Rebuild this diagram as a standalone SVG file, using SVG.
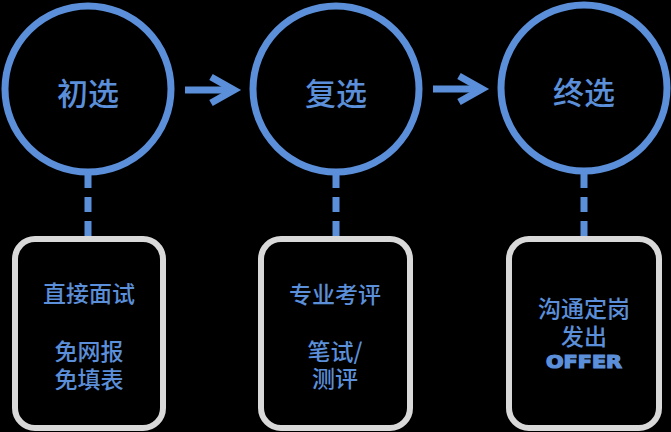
<svg xmlns="http://www.w3.org/2000/svg" width="671" height="432" viewBox="0 0 671 432">
<defs>
<style>
.ring{fill:none;stroke:#5B8FD9;stroke-width:7}
.box{fill:#000;stroke:#D9D9D9;stroke-width:6}
.dash{stroke:#5B8FD9;stroke-width:7;stroke-dasharray:15 9;fill:none}
.arr{stroke:#5B8FD9;stroke-width:7;fill:none;stroke-linecap:butt}
.big{font-family:"Noto Sans CJK SC","Noto Sans",sans-serif;font-size:31px;font-weight:500;fill:#5B8FD9;text-anchor:middle;dominant-baseline:central}
.t{font-family:"Noto Sans CJK SC","Noto Sans",sans-serif;font-size:23px;font-weight:500;fill:#5B8FD9;text-anchor:middle;dominant-baseline:central}
.offer{font-family:"DejaVu Sans",sans-serif;font-size:17px;font-weight:900;fill:#5B8FD9;stroke:#5B8FD9;stroke-width:1.2;text-anchor:middle;dominant-baseline:central}
</style>
</defs>
<rect width="671" height="432" fill="#000"/>
<g id="connectors">
<path class="arr" d="M185 90 H233"/>
<path class="arr" d="M211 77 L234 90 L211 103"/>
<path class="arr" d="M433 89 H481"/>
<path class="arr" d="M459 76 L482 89 L459 102"/>
<path class="dash" d="M88 173 V237"/>
<path class="dash" d="M336 173 V237"/>
<path class="dash" d="M584 173 V237"/>
</g>
<g id="n1"><circle class="ring" cx="88" cy="89" r="83"/><text class="big" x="88" y="91">初选</text></g>
<g id="n2"><circle class="ring" cx="336" cy="89" r="83"/><text class="big" x="336" y="91">复选</text></g>
<g id="n3"><circle class="ring" cx="584" cy="88" r="83"/><text class="big" x="584" y="90">终选</text></g>
<g id="b1"><rect class="box" x="15" y="239" width="148" height="189" rx="20"/>
<text class="t" x="89" y="292">直接面试</text><text class="t" x="89" y="350">免网报</text><text class="t" x="89" y="378">免填表</text></g>
<g id="b2"><rect class="box" x="261" y="239" width="149" height="189" rx="20"/>
<text class="t" x="335" y="293">专业考评</text><text class="t" x="335" y="350">笔试/</text><text class="t" x="335" y="377">测评</text></g>
<g id="b3"><rect class="box" x="509" y="239" width="150" height="189" rx="20"/>
<text class="t" x="584" y="307">沟通定岗</text><text class="t" x="584" y="335">发出</text><text class="offer" x="584" y="362" textLength="76" lengthAdjust="spacingAndGlyphs">OFFER</text></g>
</svg>
